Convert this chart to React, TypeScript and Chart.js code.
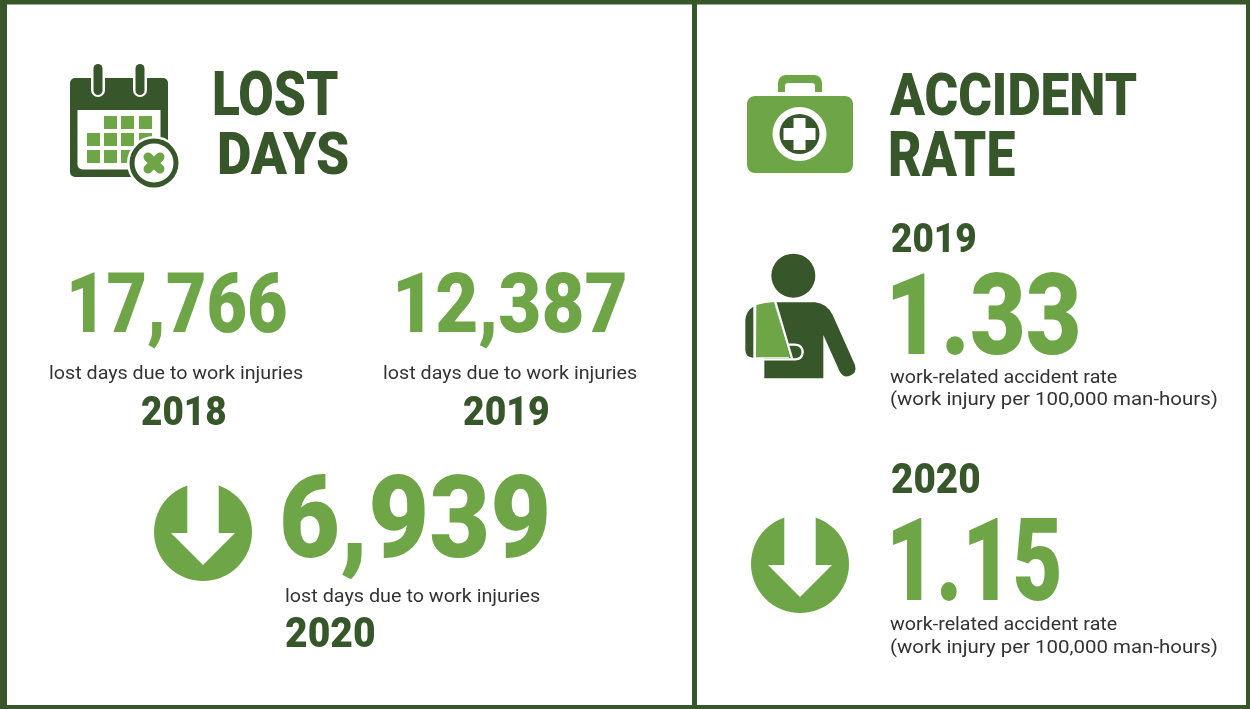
import React, { useEffect, useRef } from "react";
import { Chart, registerables } from "chart.js";

Chart.register(...registerables);

const lostDayYears = ["2018", "2019", "2020"];
const lostDays = [17766, 12387, 6939];
const accidentYears = ["2019", "2020"];
const accidentRates = [1.33, 1.15];
const titleLost = ["LOST", "DAYS"];
const titleRate = ["ACCIDENT", "RATE"];
const lostCaption = "lost days due to work injuries";
const rateCaption = ["work-related accident rate", "(work injury per 100,000 man-hours)"];

const DARK = "#37572b";
const GREEN = "#6ea547";
const TEXT = "#333333";
const HEAVY = '900 100px Roboto, "Liberation Sans", sans-serif';
const CAP = 'Roboto, "Liberation Sans", sans-serif';

// Ink box of a text drawn at the given scale, relative to its pen origin
function inkBox(text: string, font: string, sx: number, sy: number) {
  const W = 1400, H = 500, ox = 100, oy = 300;
  const c = document.createElement("canvas");
  c.width = W; c.height = H;
  const g = c.getContext("2d", { willReadFrequently: true })!;
  g.translate(ox, oy);
  g.scale(sx, sy);
  g.font = font;
  g.textBaseline = "alphabetic";
  g.fillText(text, 0, 0);
  const d = g.getImageData(0, 0, W, H).data;
  let l = W, r = 0, t = H, b = 0;
  for (let y = 0; y < H; y++) for (let x = 0; x < W; x++) {
    if (d[(y * W + x) * 4 + 3] > 110) {
      if (x < l) l = x;
      if (x + 1 > r) r = x + 1;
      if (y < t) t = y;
      if (y + 1 > b) b = y + 1;
    }
  }
  return { left: l - ox, right: r - ox, top: t - oy, bottom: b - oy };
}

function fit(ctx: CanvasRenderingContext2D, text: string, x0: number, x1: number, top: number, bottom: number, color: string, font = HEAVY) {
  const core = text.replace(/[^0-9A-Z]/g, "");
  let sx = 1, sy = 1;
  let box = inkBox(text, font, sx, sy);
  let cap = inkBox(core, font, sx, sy);
  for (let i = 0; i < 3; i++) {
    sx *= (x1 - x0) / (box.right - box.left);
    sy *= (bottom - top) / (cap.bottom - cap.top);
    box = inkBox(text, font, sx, sy);
    cap = inkBox(core, font, sx, sy);
  }
  ctx.save();
  ctx.font = font;
  ctx.textBaseline = "alphabetic";
  ctx.fillStyle = color;
  ctx.translate(x0 - box.left, bottom - cap.bottom);
  ctx.scale(sx, sy);
  ctx.fillText(text, 0, 0);
  ctx.restore();
}

function caption(ctx: CanvasRenderingContext2D, text: string, x0: number, x1: number, base: number) {
  const font = `400 19px ${CAP}`;
  let sx = 1;
  let box = inkBox(text, font, sx, 1);
  for (let i = 0; i < 2; i++) {
    sx *= (x1 - x0) / (box.right - box.left);
    box = inkBox(text, font, sx, 1);
  }
  ctx.save();
  ctx.font = font;
  ctx.textBaseline = "alphabetic";
  ctx.fillStyle = TEXT;
  ctx.translate(x0 - box.left, base);
  ctx.scale(sx, 1);
  ctx.fillText(text, 0, 0);
  ctx.restore();
}

function rr(ctx: CanvasRenderingContext2D, x: number, y: number, w: number, h: number, r: number | number[]) {
  ctx.beginPath();
  ctx.roundRect(x, y, w, h, r as any);
}

function calendarIcon(ctx: CanvasRenderingContext2D) {
  ctx.save();
  ctx.fillStyle = DARK;
  rr(ctx, 70, 78, 98, 99, 5);
  ctx.fill();
  ctx.fillStyle = "#fff";
  rr(ctx, 77.5, 110, 83, 59.5, [0, 0, 0, 5]);
  ctx.fill();
  for (const cx of [98, 140]) {
    ctx.fillStyle = "#fff";
    rr(ctx, cx - 7, 70, 14, 27, [0, 0, 7, 7]);
    ctx.fill();
    ctx.fillStyle = DARK;
    rr(ctx, cx - 4.5, 64, 9, 31, 4.5);
    ctx.fill();
  }
  ctx.fillStyle = GREEN;
  const cols = [87, 104, 121, 139];
  const rows = [116, 133, 150];
  rows.forEach((y, r) =>
    cols.forEach((x, c) => {
      if ((r === 0 && c === 0) || (r === 2 && c === 3)) return;
      ctx.fillRect(x, y, 13, 13);
    })
  );
  const cx = 154, cy = 163;
  ctx.fillStyle = "#fff";
  ctx.beginPath(); ctx.arc(cx, cy, 27, 0, Math.PI * 2); ctx.fill();
  ctx.fillStyle = DARK;
  ctx.beginPath(); ctx.arc(cx, cy, 24.5, 0, Math.PI * 2); ctx.fill();
  ctx.fillStyle = "#fff";
  ctx.beginPath(); ctx.arc(cx, cy, 19.5, 0, Math.PI * 2); ctx.fill();
  ctx.strokeStyle = GREEN;
  ctx.lineWidth = 9;
  ctx.lineCap = "round";
  ctx.beginPath();
  ctx.moveTo(cx - 6, cy - 6); ctx.lineTo(cx + 6, cy + 6);
  ctx.moveTo(cx + 6, cy - 6); ctx.lineTo(cx - 6, cy + 6);
  ctx.stroke();
  ctx.restore();
}

function caseIcon(ctx: CanvasRenderingContext2D) {
  ctx.save();
  ctx.fillStyle = GREEN;
  rr(ctx, 778, 75, 44, 22, [8, 8, 0, 0]);
  ctx.fill();
  ctx.fillStyle = "#fff";
  rr(ctx, 785, 83, 30, 14, [3, 3, 0, 0]);
  ctx.fill();
  ctx.fillRect(770, 92, 60, 4);
  ctx.fillStyle = GREEN;
  rr(ctx, 747, 96, 106, 77, 8);
  ctx.fill();
  ctx.fillStyle = "#fff";
  ctx.beginPath(); ctx.arc(799.5, 134, 27, 0, Math.PI * 2); ctx.fill();
  ctx.fillStyle = DARK;
  ctx.beginPath(); ctx.arc(799.5, 134, 20, 0, Math.PI * 2); ctx.fill();
  ctx.fillStyle = "#fff";
  ctx.fillRect(783.5, 128, 32, 12);
  ctx.fillRect(793.5, 118, 12, 32);
  ctx.restore();
}

function personIcon(ctx: CanvasRenderingContext2D) {
  ctx.save();
  ctx.translate(730, 240);
  ctx.scale(1 / 3, 1 / 3);
  ctx.fillStyle = DARK;
  ctx.beginPath(); ctx.arc(190, 107, 66, 0, Math.PI * 2); ctx.fill();
  ctx.beginPath();
  ctx.moveTo(133, 187);
  ctx.lineTo(255, 187);
  ctx.quadraticCurveTo(290, 190, 308, 225);
  ctx.lineTo(375, 375);
  ctx.quadraticCurveTo(382, 400, 358, 408);
  ctx.quadraticCurveTo(338, 414, 328, 392);
  ctx.lineTo(280, 285);
  ctx.lineTo(280, 415);
  ctx.lineTo(103, 415);
  ctx.lineTo(103, 355);
  ctx.lineTo(178, 355);
  ctx.closePath();
  ctx.fill();
  ctx.beginPath();
  ctx.moveTo(70, 200);
  ctx.lineTo(70, 353);
  ctx.quadraticCurveTo(46, 352, 46, 330);
  ctx.lineTo(46, 240);
  ctx.quadraticCurveTo(48, 212, 70, 200);
  ctx.closePath();
  ctx.fill();
  ctx.fillStyle = GREEN;
  ctx.beginPath();
  ctx.moveTo(79, 195);
  ctx.quadraticCurveTo(105, 187, 132, 186);
  ctx.lineTo(180, 352);
  ctx.lineTo(78, 352);
  ctx.closePath();
  ctx.fill();
  ctx.strokeStyle = "#fff";
  ctx.lineWidth = 7;
  ctx.beginPath();
  ctx.moveTo(136, 186);
  ctx.lineTo(186, 356);
  ctx.stroke();
  ctx.beginPath();
  ctx.moveTo(174, 314);
  ctx.lineTo(195, 314);
  ctx.quadraticCurveTo(218, 316, 218, 337);
  ctx.quadraticCurveTo(216, 358, 195, 358);
  ctx.lineTo(74, 358);
  ctx.stroke();
  ctx.restore();
}

function arrowIcon(ctx: CanvasRenderingContext2D, cx: number, cy: number) {
  ctx.save();
  ctx.fillStyle = GREEN;
  ctx.beginPath(); ctx.arc(cx, cy, 49, 0, Math.PI * 2); ctx.fill();
  ctx.fillStyle = "#fff";
  ctx.beginPath();
  ctx.moveTo(cx - 15.7, cy - 50);
  ctx.lineTo(cx + 15.7, cy - 50);
  ctx.lineTo(cx + 15.7, cy + 1);
  ctx.lineTo(cx + 32, cy + 1);
  ctx.lineTo(cx, cy + 33);
  ctx.lineTo(cx - 32, cy + 1);
  ctx.lineTo(cx - 15.7, cy + 1);
  ctx.closePath();
  ctx.fill();
  ctx.restore();
}

const infographic = {
  id: "infographic",
  afterDraw(chart: any) {
    const ctx: CanvasRenderingContext2D = chart.ctx;
    const days: number[] = chart.data.datasets[0].data;
    const rates: number[] = chart.data.datasets[1].data;
    const n = (v: number) => v.toLocaleString("en-US");

    ctx.save();
    ctx.fillStyle = "#fff";
    ctx.fillRect(0, 0, 1250, 709);
    ctx.fillStyle = DARK;
    ctx.fillRect(0, 0, 1250, 4.5);
    ctx.fillRect(0, 705, 1250, 4);
    ctx.fillRect(0, 0, 7, 709);
    ctx.fillRect(1246, 0, 4, 709);
    ctx.fillRect(692, 0, 5, 709);
    ctx.restore();

    calendarIcon(ctx);
    caseIcon(ctx);
    personIcon(ctx);
    arrowIcon(ctx, 203, 532);
    arrowIcon(ctx, 800, 564);

    fit(ctx, titleLost[0], 215, 338, 71, 116, DARK);
    fit(ctx, titleLost[1], 220, 347, 130, 175, DARK);
    fit(ctx, titleRate[0], 890, 1136, 72, 116, DARK);
    fit(ctx, titleRate[1], 891, 1015, 131, 176, DARK);

    fit(ctx, n(days[0]), 72, 286, 272, 333, GREEN);
    fit(ctx, n(days[1]), 398, 625, 272, 333, GREEN);
    fit(ctx, n(days[2]), 283, 547, 474, 558, GREEN);

    caption(ctx, lostCaption, 50, 302, 379);
    caption(ctx, lostCaption, 384, 636, 379);
    caption(ctx, lostCaption, 286, 539, 602);

    fit(ctx, lostDayYears[0], 142, 225, 396, 425, DARK);
    fit(ctx, lostDayYears[1], 464, 548, 396, 425, DARK);
    fit(ctx, lostDayYears[2], 286, 374, 617, 647, DARK);

    fit(ctx, accidentYears[0], 892, 975, 223, 252, DARK);
    fit(ctx, rates[0].toFixed(2), 893, 1078, 272, 355, GREEN);
    caption(ctx, rateCaption[0], 891, 1117, 383);
    caption(ctx, rateCaption[1], 891, 1216, 405);

    fit(ctx, accidentYears[1], 892, 979, 463, 493, DARK);
    fit(ctx, rates[1].toFixed(2), 893, 1059, 518, 601, GREEN);
    caption(ctx, rateCaption[0], 891, 1117, 630);
    caption(ctx, rateCaption[1], 891, 1216, 653);
  },
};

export default function App() {
  const ref = useRef<HTMLCanvasElement>(null);
  useEffect(() => {
    const chart = new Chart(ref.current!, {
      type: "line",
      data: {
        labels: lostDayYears,
        datasets: [
          { label: "Lost days", data: lostDays, showLine: false, pointRadius: 0 },
          { label: "Accident rate", data: accidentRates, showLine: false, pointRadius: 0 },
        ],
      },
      options: {
        animation: false,
        responsive: false,
        layout: { padding: 0 },
        plugins: { legend: { display: false }, tooltip: { enabled: false }, title: { display: false } },
        scales: { x: { display: false }, y: { display: false } },
      },
      plugins: [infographic],
    } as any);
    return () => chart.destroy();
  }, []);
  return (
    <div style={{ position: "fixed", left: 0, top: 0, width: 1250, height: 709, background: "#fff" }}>
      <canvas ref={ref} width={1250} height={709} style={{ display: "block" }} />
    </div>
  );
}
